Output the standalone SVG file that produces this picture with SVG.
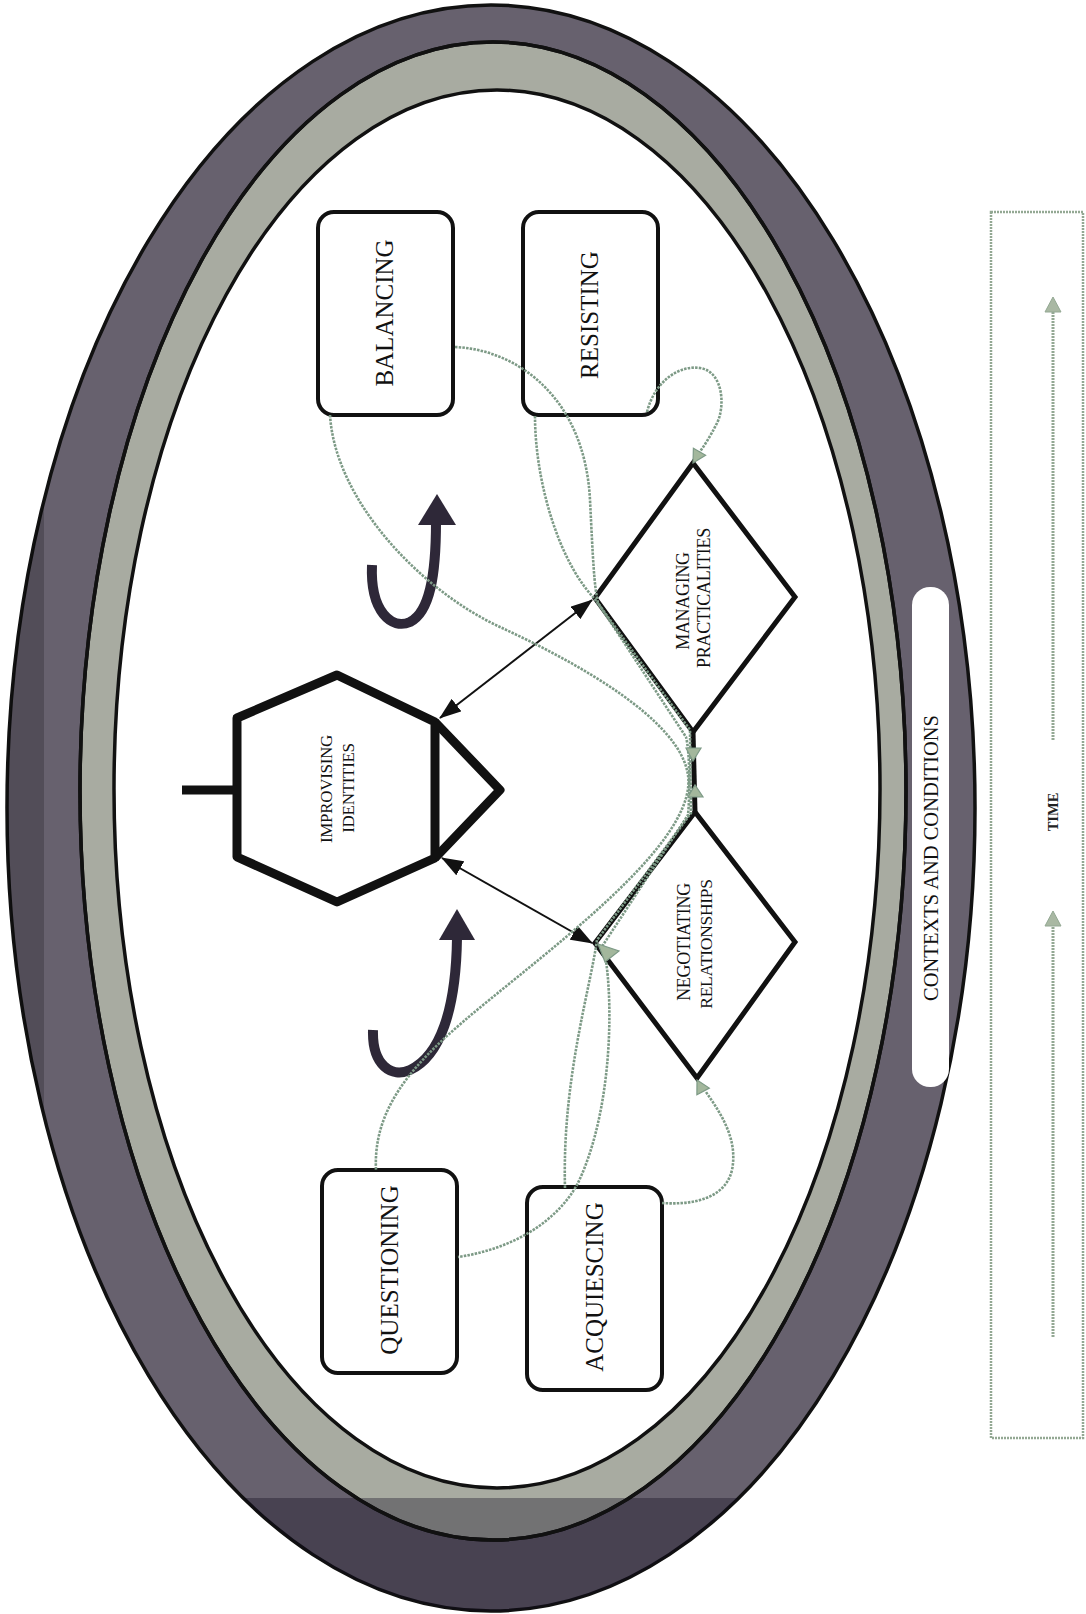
<svg xmlns="http://www.w3.org/2000/svg" width="1086" height="1614" viewBox="0 0 1086 1614">
<defs>
<style>
.band{stroke:#111;stroke-width:3.5}
.box{fill:#fff;stroke:#111;stroke-width:4}
.dia{fill:#fff;stroke:#111;stroke-width:5;stroke-linejoin:miter}
.big{font-family:"Liberation Serif","Times New Roman",serif;font-size:25px;fill:#111;text-anchor:middle}
.small{font-family:"Liberation Serif","Times New Roman",serif;font-size:17px;fill:#111;text-anchor:middle;letter-spacing:-0.3px}
.dot{fill:none;stroke:#7d9a86;stroke-width:2.6;stroke-dasharray:2.5 1.2}
.dothead{fill:#a3b79c;stroke:#7d9a86;stroke-width:1.2}
.uarrow{fill:none;stroke:#2e2838;stroke-width:10}
.uhead{fill:#2e2838}
.thin{fill:none;stroke:#111;stroke-width:2}
</style>
<marker id="ah" viewBox="0 0 22 16" refX="21" refY="8" markerWidth="22" markerHeight="16" markerUnits="userSpaceOnUse" orient="auto-start-reverse">
<path d="M0,0 L22,8 L0,16 z" fill="#111"/>
</marker>
<clipPath id="outerClip"><ellipse cx="491" cy="808" rx="484" ry="803"/></clipPath>
</defs>

<g id="context-ring">
<ellipse cx="491" cy="808" rx="484" ry="803" fill="#67616e" class="band"/>
<g clip-path="url(#outerClip)">
<rect x="0" y="250" width="44" height="1200" fill="#000" opacity="0.2"/>
</g>
<ellipse cx="493" cy="791" rx="413" ry="749" fill="#a8aba1" class="band"/>
<g clip-path="url(#outerClip)">
<rect x="0" y="1498" width="1086" height="120" fill="#0e0a1e" opacity="0.35"/>
</g>
<ellipse cx="493" cy="791" rx="413" ry="749" fill="none" class="band"/>
<ellipse cx="497" cy="789" rx="383" ry="699" fill="#fff" class="band"/>
</g>

<g id="contexts-and-conditions">
<rect x="912" y="587" width="37" height="500" rx="18" fill="#fff"/>
<text class="big" style="font-size:20.5px" transform="translate(938,858) rotate(-90)">CONTEXTS AND CONDITIONS</text>
</g>

<g id="time">
<rect x="991" y="212" width="92" height="1226" fill="none" stroke="#93a893" stroke-width="2.5" stroke-dasharray="2 1"/>
<line x1="1053" y1="740" x2="1053" y2="308" stroke="#93a893" stroke-width="3" stroke-dasharray="2 1"/>
<polygon points="1045,312 1053,297 1061,312" fill="#a9b8a3" stroke="#93a893"/>
<line x1="1053" y1="1337" x2="1053" y2="922" stroke="#93a893" stroke-width="3" stroke-dasharray="2 1"/>
<polygon points="1045,926 1053,911 1061,926" fill="#a9b8a3" stroke="#93a893"/>
<text transform="translate(1058,812) rotate(-90)" style="font-family:'Liberation Serif','Times New Roman',serif;font-size:14.5px;font-weight:bold;fill:#222;text-anchor:middle">TIME</text>
</g>

<g id="node-balancing">
<rect class="box" x="318" y="212" width="135" height="203" rx="16"/>
<text class="big" transform="translate(393,313) rotate(-90)">BALANCING</text>
</g>
<g id="node-resisting">
<rect class="box" x="523" y="212" width="135" height="203" rx="16"/>
<text class="big" transform="translate(598,315) rotate(-90)">RESISTING</text>
</g>
<g id="node-questioning">
<rect class="box" x="322" y="1170" width="135" height="203" rx="16"/>
<text class="big" transform="translate(398,1270) rotate(-90)">QUESTIONING</text>
</g>
<g id="node-acquiescing">
<rect class="box" x="527" y="1187" width="135" height="203" rx="16"/>
<text class="big" transform="translate(603,1287) rotate(-90)">ACQUIESCING</text>
</g>

<g id="node-improvising-identities">
<polygon points="337,675 237,718 237,857 337,902 435,858 435,722" fill="#fff" stroke="#111" stroke-width="9" stroke-linejoin="round"/>
<polyline points="435,722 500,790 435,858" fill="none" stroke="#111" stroke-width="9" stroke-linejoin="round"/>
<line x1="182" y1="790" x2="237" y2="790" stroke="#111" stroke-width="9"/>
<text class="small" transform="translate(332,789) rotate(-90)">IMPROVISING</text>
<text class="small" transform="translate(354,788) rotate(-90)">IDENTITIES</text>
</g>

<g id="node-managing-practicalities">
<polygon class="dia" points="693,463 795,597 693,732 595,598"/>
<text class="small" style="font-size:18px" transform="translate(689,601) rotate(-90)">MANAGING</text>
<text class="small" style="font-size:18px" transform="translate(710,598) rotate(-90)">PRACTICALITIES</text>
</g>

<g id="node-negotiating-relationships">
<polygon class="dia" points="695,812 795,942 697,1078 595,943"/>
<text class="small" style="font-size:18px" transform="translate(690,942) rotate(-90)">NEGOTIATING</text>
<text class="small" style="font-size:17.5px" transform="translate(712,944) rotate(-90)">RELATIONSHIPS</text>
</g>

<g id="connectors">
<line x1="693" y1="732" x2="695" y2="812" stroke="#111" stroke-width="5"/>
<line class="thin" x1="592" y1="600" x2="440" y2="718" marker-start="url(#ah)" marker-end="url(#ah)"/>
<line class="thin" x1="592" y1="943" x2="442" y2="858" marker-start="url(#ah)" marker-end="url(#ah)"/>

<path class="uarrow" d="M 372 565 C 370 612 392 630 410 622 C 430 612 436 575 436 522"/>
<polygon class="uhead" points="418,525 437,494 456,525"/>
<path class="uarrow" d="M 373 1030 C 372 1066 392 1078 410 1070 C 440 1056 456 1010 457 938"/>
<polygon class="uhead" points="439,940 457,909 475,940"/>

<path class="dot" d="M 330 415 C 335 500 420 590 500 627 C 580 664 680 720 688 775 C 696 830 600 910 520 975 C 440 1040 372 1090 376 1170"/>
<path class="dot" d="M 455 347 C 520 350 585 400 590 500 C 593 560 594 585 598 603 L 686 737 C 690 752 690 795 688 815 L 603 945 C 614 990 614 1110 577 1185 C 552 1228 505 1250 458 1257"/>
<path class="dot" d="M 535 416 C 535 480 558 560 594 598 L 690 730 L 691 813 L 597 940 C 590 990 562 1080 565 1188"/>
<path class="dot" d="M 647 412 C 655 380 680 365 700 368 C 725 372 725 410 716 425 C 710 437 704 446 699 453"/>
<path class="dot" d="M 662 1203 C 690 1205 725 1200 732 1170 C 738 1140 722 1115 706 1092"/>
<polygon class="dothead" points="693,463 705.6,455.2 693.4,448.2"/>
<polygon class="dothead" points="697,1080 709.3,1088.1 696.9,1094.7"/>
<polygon class="dothead" points="686,748 701,748 693,761"/>
<polygon class="dothead" points="688,797 703,797 695,785"/>
<polygon class="dothead" points="598,944 605,962 619,951"/>
</g>
</svg>
